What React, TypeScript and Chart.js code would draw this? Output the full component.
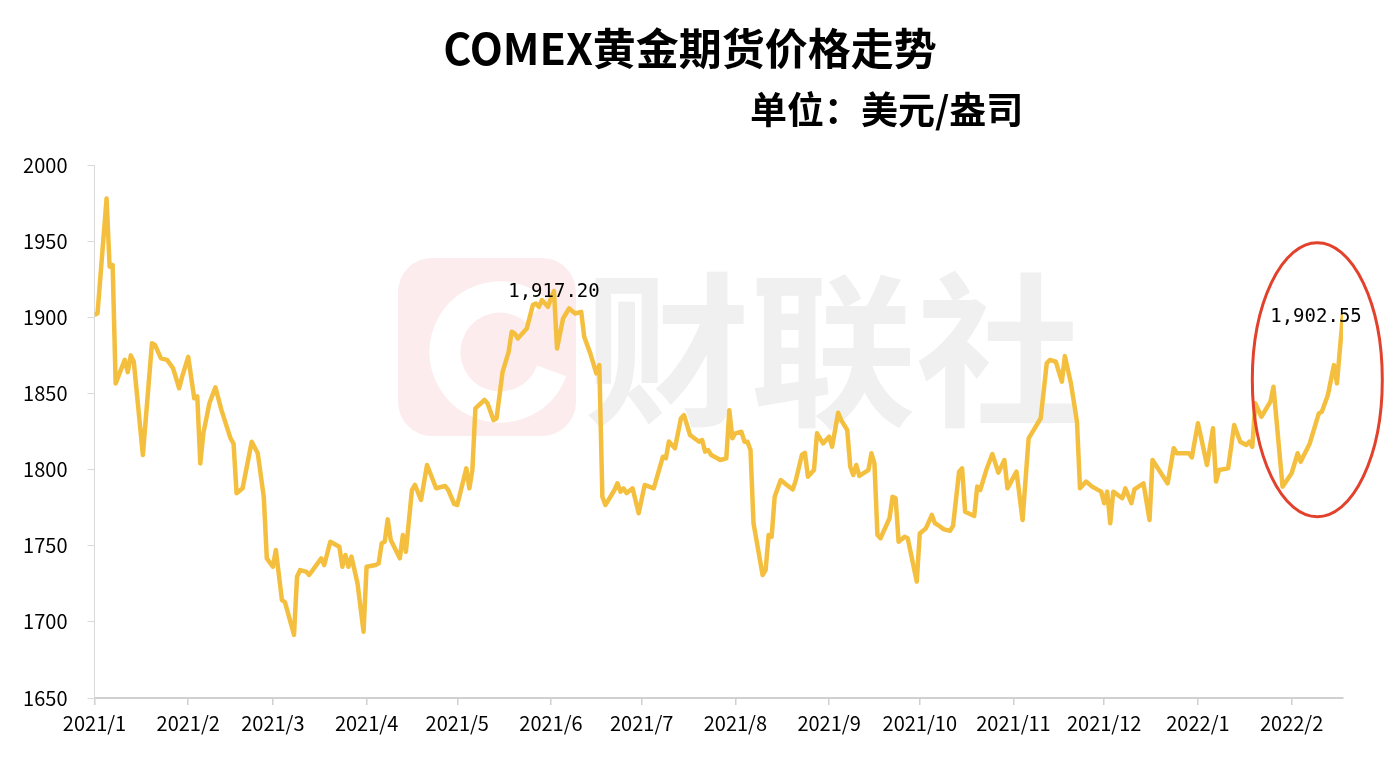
import React, { useEffect, useRef } from "react";
import { Chart, registerables } from "chart.js";

Chart.register(...registerables);

// ---------- text ----------
const TITLE = "COMEX黄金期货价格走势";
const SUBTITLE = "单位：美元/盎司";
const WATERMARK = "财联社";

// ---------- data ----------
// trading dates expressed as days since 2021-01-04
const days = [
  0, 1, 4, 5, 6, 7, 10, 11, 12, 13,
  16, 19, 20, 22, 24, 26, 28, 29, 31, 33,
  34, 35, 36, 38, 40, 42, 45, 46, 47, 49,
  52, 54, 56, 57, 59, 60, 62, 63, 66, 67,
  68, 70, 71, 75, 76, 78, 81, 82, 83, 84,
  85, 87, 89, 90, 93, 94, 95, 96, 97, 98,
  101, 102, 103, 105, 106, 108, 110, 113, 116, 117,
  119, 120, 123, 124, 125, 126, 129, 130, 132, 133,
  135, 137, 138, 139, 140, 143, 145, 146, 147, 148,
  150, 151, 152, 153, 155, 156, 157, 159, 161, 162,
  164, 166, 167, 168, 169, 172, 173, 174, 175, 176,
  178, 180, 182, 185, 188, 189, 190, 192, 194, 195,
  197, 200, 201, 202, 203, 204, 206, 207, 209, 210,
  211, 212, 214, 215, 216, 217, 218, 221, 222, 223,
  224, 225, 227, 229, 231, 232, 234, 235, 236, 238,
  239, 240, 241, 243, 244, 246, 247, 249, 250, 251,
  252, 253, 256, 257, 258, 259, 260, 263, 264, 265,
  266, 268, 269, 272, 273, 275, 277, 278, 279, 281,
  283, 284, 286, 287, 288, 291, 292, 293, 295, 297,
  299, 301, 302, 305, 307, 309, 311, 313, 315, 316,
  318, 320, 321, 323, 325, 326, 328, 330, 333, 334,
  335, 336, 337, 340, 341, 343, 344, 347, 349, 350,
  355, 357, 358, 359, 362, 363, 365, 366, 368, 370,
  371, 372, 375, 377, 379, 381, 382, 383, 384, 386,
  389, 390, 393, 396, 398, 399, 402, 405, 406, 408,
  410, 411, 413,
];

const prices = [
  1901.5, 1902.6, 1978.0, 1933.2, 1934.3, 1856.6, 1872.0, 1864.0, 1875.0, 1870.8,
  1809.6, 1882.9, 1881.8, 1873.0, 1872.0, 1866.5, 1853.4, 1861.0, 1874.0, 1846.8,
  1848.0, 1804.0, 1823.8, 1843.5, 1854.0, 1839.0, 1820.5, 1817.0, 1784.4, 1787.7,
  1818.3, 1810.7, 1782.0, 1741.7, 1736.2, 1747.2, 1714.3, 1713.0, 1691.4, 1729.6,
  1734.0, 1733.0, 1730.8, 1741.7, 1737.3, 1752.6, 1749.3, 1736.2, 1743.9, 1736.2,
  1742.8, 1725.3, 1693.5, 1736.2, 1737.3, 1738.4, 1751.6, 1752.6, 1767.3, 1753.7,
  1741.7, 1757.0, 1746.0, 1786.6, 1789.9, 1780.0, 1803.0, 1787.7, 1789.2, 1786.6,
  1777.4, 1776.7, 1800.8, 1787.7, 1799.7, 1840.2, 1845.7, 1843.5, 1832.5, 1833.7,
  1864.2, 1877.3, 1890.5, 1889.4, 1886.1, 1892.7, 1908.0, 1909.0, 1906.9, 1911.3,
  1906.9, 1912.4, 1917.2, 1879.5, 1899.2, 1902.5, 1905.8, 1902.5, 1903.6, 1887.2,
  1876.3, 1863.2, 1868.6, 1782.2, 1776.7, 1786.6, 1791.0, 1785.5, 1787.7, 1784.5,
  1787.7, 1771.3, 1789.9, 1787.7, 1808.4, 1807.4, 1818.4, 1814.0, 1833.7, 1835.8,
  1822.7, 1818.3, 1819.4, 1811.8, 1812.8, 1809.6, 1807.4, 1806.3, 1807.4, 1839.0,
  1820.5, 1823.8, 1824.8, 1818.3, 1818.3, 1812.8, 1764.7, 1730.8, 1734.0, 1757.0,
  1755.9, 1782.2, 1793.1, 1789.9, 1787.0, 1793.1, 1809.6, 1811.0, 1795.3, 1799.7,
  1823.8, 1820.5, 1817.2, 1821.6, 1815.0, 1837.3, 1832.5, 1826.0, 1801.9, 1796.4,
  1803.0, 1795.8, 1799.7, 1810.7, 1804.1, 1757.0, 1754.9, 1768.0, 1782.2, 1781.2,
  1752.6, 1755.9, 1754.9, 1726.4, 1758.0, 1761.4, 1770.2, 1764.7, 1763.6, 1760.7,
  1759.8, 1763.0, 1798.6, 1800.8, 1772.3, 1769.5, 1788.8, 1786.6, 1799.7, 1810.2,
  1798.0, 1806.3, 1787.7, 1798.6, 1766.9, 1820.5, 1827.1, 1833.7, 1869.8, 1872.0,
  1870.8, 1857.7, 1874.5, 1856.6, 1831.4, 1787.7, 1792.1, 1788.8, 1785.5, 1777.9,
  1785.5, 1764.7, 1785.5, 1781.2, 1787.7, 1777.9, 1787.0, 1790.9, 1766.9, 1806.3,
  1790.9, 1814.0, 1810.7, 1810.7, 1810.7, 1808.0, 1830.4, 1821.6, 1803.0, 1827.1,
  1792.1, 1799.7, 1800.8, 1829.3, 1818.3, 1816.1, 1818.3, 1815.0, 1843.5, 1834.7,
  1844.6, 1854.4, 1788.8, 1797.6, 1810.7, 1805.2, 1817.2, 1836.9, 1838.0, 1849.0,
  1868.6, 1856.6, 1902.55,
];

const monthLabels = [
  "2021/1", "2021/2", "2021/3", "2021/4", "2021/5", "2021/6", "2021/7",
  "2021/8", "2021/9", "2021/10", "2021/11", "2021/12", "2022/1", "2022/2",
];

const yMin = 1650;
const yMax = 2000;
const yStep = 50;

// data points that carry a value label
const calloutDays = [152, 413];

// highlighted region (red ellipse) in data units
const highlightDays = [383, 426];
const highlightValues = [1769, 1949];

// ---------- helpers ----------
const START = new Date(2021, 0, 4);
const tickDays = monthLabels.map((l) => {
  const [y, m] = l.split("/").map(Number);
  return Math.round((new Date(y, m - 1, 4).getTime() - START.getTime()) / 86400000);
});
const lastDay = days[days.length - 1];

const CJK = "'Noto Sans CJK SC', 'Noto Sans', sans-serif";
const fmt = new Intl.NumberFormat("en-US", { minimumFractionDigits: 2, maximumFractionDigits: 2 });

const decorPlugin = {
  id: "decor",
  beforeDatasetsDraw(chart: any) {
    const ctx = chart.ctx;
    ctx.save();
    // watermark logo
    ctx.fillStyle = "#fcecee";
    ctx.beginPath();
    (ctx as any).roundRect(398, 258, 178, 178, 34);
    ctx.fill();
    ctx.strokeStyle = "#ffffff";
    ctx.lineWidth = 31;
    ctx.beginPath();
    ctx.arc(500, 352, 55, 0.35, Math.PI * 2 - 0.85);
    ctx.stroke();
    // watermark text
    ctx.fillStyle = "#f0f0f0";
    ctx.font = `bold 166px ${CJK}`;
    ctx.textAlign = "center";
    ctx.textBaseline = "middle";
    ctx.fillText(WATERMARK, 833, 350);
    ctx.restore();
  },
  afterDatasetsDraw(chart: any) {
    const ctx = chart.ctx;
    const meta = chart.getDatasetMeta(0);
    const xs = chart.scales.x;
    const ys = chart.scales.y;
    ctx.save();
    // value labels
    ctx.fillStyle = "#000";
    ctx.font = `19px 'DejaVu Sans Mono', monospace`;
    ctx.textAlign = "center";
    ctx.textBaseline = "middle";
    calloutDays.forEach((d, k) => {
      const i = days.indexOf(d);
      if (i < 0) return;
      const pt = meta.data[i];
      const dx = k === calloutDays.length - 1 ? -27 : 0;
      const dy = k === calloutDays.length - 1 ? 4 : 1;
      ctx.fillText(fmt.format(prices[i]), pt.x + dx, pt.y + dy);
    });
    // red ellipse
    const x1 = xs.getPixelForValue(highlightDays[0]);
    const x2 = xs.getPixelForValue(highlightDays[1]);
    const y1 = ys.getPixelForValue(highlightValues[1]);
    const y2 = ys.getPixelForValue(highlightValues[0]);
    ctx.strokeStyle = "#e2412b";
    ctx.lineWidth = 3;
    ctx.beginPath();
    ctx.ellipse((x1 + x2) / 2, (y1 + y2) / 2, (x2 - x1) / 2, (y2 - y1) / 2, 0, 0, Math.PI * 2);
    ctx.stroke();
    ctx.restore();
  },
  afterDraw(chart: any) {
    const ctx = chart.ctx;
    ctx.save();
    ctx.fillStyle = "#000";
    ctx.textBaseline = "middle";
    ctx.textAlign = "center";
    ctx.font = `bold 43px ${CJK}`;
    ctx.fillText(TITLE, 690, 49);
    ctx.textAlign = "left";
    ctx.font = `bold 37px ${CJK}`;
    ctx.fillText(SUBTITLE, 750, 110);
    ctx.restore();
  },
};

export default function App() {
  const ref = useRef<HTMLCanvasElement | null>(null);

  useEffect(() => {
    document.body.style.margin = "0";
    if (!ref.current) return;
    const data = days.map((d, i) => ({ x: d, y: prices[i] }));
    const chart = new Chart(ref.current, {
      type: "line",
      data: {
        datasets: [
          {
            data,
            borderColor: "#f4bf3e",
            borderWidth: 4.5,
            pointRadius: 0,
            tension: 0,
            borderJoinStyle: "round",
            fill: false,
          },
        ],
      },
      options: {
        responsive: false,
        animation: false,
        layout: { padding: { top: 165, right: 47, bottom: 0, left: 0 } },
        plugins: {
          legend: { display: false },
          tooltip: { enabled: false },
          title: { display: false },
        },
        scales: {
          x: {
            type: "linear",
            min: 0,
            max: lastDay,
            afterBuildTicks: (s: any) => {
              s.ticks = tickDays.map((v) => ({ value: v }));
            },
            afterFit: (s: any) => {
              s.height = 60;
            },
            ticks: {
              autoSkip: false,
              maxRotation: 0,
              minRotation: 0,
              padding: 6,
              color: "#000",
              font: { family: CJK, size: 20 },
              callback: (v: any) => {
                const i = tickDays.indexOf(Number(v));
                return i >= 0 ? monthLabels[i] : "";
              },
            },
            grid: {
              drawOnChartArea: false,
              drawTicks: true,
              tickLength: 7,
              color: "#d0d0d0",
              lineWidth: 1.5,
            },
            border: { display: true, color: "#d0d0d0", width: 2 },
          },
          y: {
            min: yMin,
            max: yMax,
            afterFit: (s: any) => {
              s.width = 94.5;
            },
            ticks: {
              stepSize: yStep,
              padding: 20,
              color: "#000",
              font: { family: CJK, size: 20 },
              callback: (v: any) => String(v),
            },
            grid: {
              drawOnChartArea: false,
              drawTicks: true,
              tickLength: 7,
              color: "#d9d9d9",
            },
            border: { display: true, color: "#d9d9d9", width: 1 },
          },
        },
      },
      plugins: [decorPlugin],
    } as any);
    return () => chart.destroy();
  }, []);

  return (
    <div style={{ position: "absolute", left: 0, top: 0, width: 1390, height: 758, background: "#fff" }}>
      <canvas ref={ref} width={1390} height={758} style={{ width: 1390, height: 758, display: "block" }} />
    </div>
  );
}
